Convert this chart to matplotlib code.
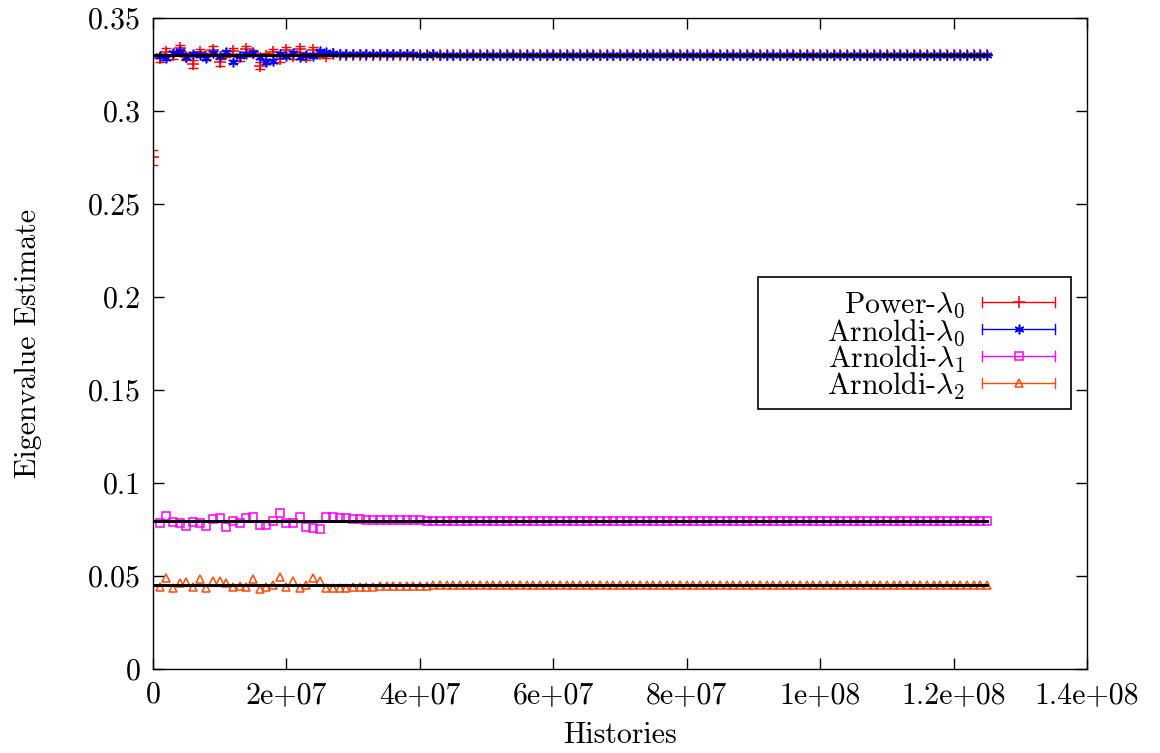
import matplotlib.pyplot as plt
from matplotlib.lines import Line2D
from matplotlib.patches import Rectangle
import numpy as np

plt.rcParams['font.family'] = 'cmr10'
plt.rcParams['mathtext.fontset'] = 'cm'
plt.rcParams['axes.unicode_minus'] = False

# histories (millions) at which each estimate was recorded
power_hist = np.arange(0, 126) * 1e6
arnoldi_hist = np.arange(1, 126) * 1e6

power_l0 = [
    0.2750, 0.3285, 0.3318, 0.3302, 0.3340, 0.3292, 0.3252, 0.3315, 0.3296, 0.3330,
    0.3262, 0.3308, 0.3322, 0.3288, 0.3335, 0.3310, 0.3243, 0.3295, 0.3318, 0.3282,
    0.3326, 0.3298, 0.3334, 0.3290, 0.3328, 0.3306, 0.3296, 0.3304, 0.3299, 0.3303,
    0.3301, 0.3300, 0.3303, 0.3301, 0.3299, 0.3302, 0.3301, 0.3300, 0.3302, 0.3301,
    0.3300, 0.3302, 0.3301, 0.3301, 0.3300, 0.3302, 0.3301, 0.3300, 0.3301, 0.3302,
    0.3301, 0.3300, 0.3301, 0.3302, 0.3301, 0.3301, 0.3300, 0.3301, 0.3302, 0.3301,
    0.3301, 0.3302, 0.3301, 0.3300, 0.3301, 0.3301, 0.3302, 0.3301, 0.3301, 0.3300,
    0.3301, 0.3302, 0.3301, 0.3301, 0.3301, 0.3300, 0.3301, 0.3302, 0.3301, 0.3301,
    0.3301, 0.3301, 0.3302, 0.3301, 0.3300, 0.3301, 0.3301, 0.3302, 0.3301, 0.3301,
    0.3301, 0.3300, 0.3301, 0.3301, 0.3302, 0.3301, 0.3301, 0.3301, 0.3300, 0.3301,
    0.3301, 0.3302, 0.3301, 0.3301, 0.3301, 0.3301, 0.3300, 0.3301, 0.3301, 0.3302,
    0.3301, 0.3301, 0.3301, 0.3301, 0.3300, 0.3301, 0.3301, 0.3301, 0.3302, 0.3301,
    0.3301, 0.3301, 0.3301, 0.3300, 0.3301, 0.3301,
]
power_l0_err = [
    0.0040, 0.0020, 0.0018, 0.0020, 0.0016, 0.0018, 0.0020, 0.0016, 0.0018, 0.0017,
    0.0018, 0.0016, 0.0017, 0.0018, 0.0016, 0.0017, 0.0018, 0.0016, 0.0017, 0.0016,
    0.0017, 0.0016, 0.0016, 0.0017, 0.0016, 0.0015, 0.0012, 0.0008, 0.0006, 0.0005,
    0.0005, 0.0004, 0.0004, 0.0004, 0.0004, 0.0004, 0.0003, 0.0003, 0.0003, 0.0003,
    0.0003, 0.0003, 0.0003, 0.0003, 0.0003, 0.0003, 0.0003, 0.0003, 0.0003, 0.0003,
    0.0003, 0.0003, 0.0003, 0.0003, 0.0003, 0.0003, 0.0003, 0.0003, 0.0003, 0.0003,
    0.0003, 0.0003, 0.0003, 0.0003, 0.0002, 0.0002, 0.0002, 0.0002, 0.0002, 0.0002,
    0.0002, 0.0002, 0.0002, 0.0002, 0.0002, 0.0002, 0.0002, 0.0002, 0.0002, 0.0002,
    0.0002, 0.0002, 0.0002, 0.0002, 0.0002, 0.0002, 0.0002, 0.0002, 0.0002, 0.0002,
    0.0002, 0.0002, 0.0002, 0.0002, 0.0002, 0.0002, 0.0002, 0.0002, 0.0002, 0.0002,
    0.0002, 0.0002, 0.0002, 0.0002, 0.0002, 0.0002, 0.0002, 0.0002, 0.0002, 0.0002,
    0.0002, 0.0002, 0.0002, 0.0002, 0.0002, 0.0002, 0.0002, 0.0002, 0.0002, 0.0002,
    0.0002, 0.0002, 0.0002, 0.0002, 0.0002, 0.0002,
]

arnoldi_l0 = [
    0.3295, 0.3285, 0.3312, 0.3320, 0.3290, 0.3308, 0.3300, 0.3283, 0.3310, 0.3296,
    0.3315, 0.3266, 0.3298, 0.3305, 0.3312, 0.3288, 0.3263, 0.3270, 0.3306, 0.3294,
    0.3310, 0.3290, 0.3302, 0.3293, 0.3320, 0.3316, 0.3312, 0.3309, 0.3308, 0.3307,
    0.3306, 0.3306, 0.3305, 0.3305, 0.3305, 0.3304, 0.3304, 0.3304, 0.3304, 0.3303,
    0.3303, 0.3304, 0.3303, 0.3303, 0.3303, 0.3302, 0.3303, 0.3303, 0.3303, 0.3302,
    0.3303, 0.3303, 0.3302, 0.3303, 0.3303, 0.3302, 0.3303, 0.3302, 0.3303, 0.3302,
    0.3302, 0.3303, 0.3302, 0.3302, 0.3303, 0.3302, 0.3302, 0.3302, 0.3303, 0.3302,
    0.3302, 0.3302, 0.3302, 0.3303, 0.3302, 0.3302, 0.3302, 0.3302, 0.3302, 0.3302,
    0.3302, 0.3303, 0.3302, 0.3302, 0.3302, 0.3302, 0.3302, 0.3302, 0.3302, 0.3302,
    0.3302, 0.3302, 0.3302, 0.3302, 0.3302, 0.3302, 0.3302, 0.3302, 0.3302, 0.3302,
    0.3302, 0.3302, 0.3302, 0.3302, 0.3302, 0.3302, 0.3302, 0.3302, 0.3302, 0.3302,
    0.3302, 0.3302, 0.3302, 0.3302, 0.3302, 0.3302, 0.3302, 0.3302, 0.3302, 0.3302,
    0.3302, 0.3302, 0.3302, 0.3302, 0.3302,
]
arnoldi_l0_err = [
    0.0010, 0.0010, 0.0010, 0.0010, 0.0010, 0.0010, 0.0010, 0.0010, 0.0010, 0.0010,
    0.0010, 0.0010, 0.0010, 0.0010, 0.0010, 0.0010, 0.0010, 0.0010, 0.0010, 0.0010,
    0.0010, 0.0010, 0.0010, 0.0010, 0.0009, 0.0007, 0.0005, 0.0004, 0.0003, 0.0003,
    0.0003, 0.0003, 0.0003, 0.0002, 0.0002, 0.0002, 0.0002, 0.0002, 0.0002, 0.0002,
    0.0002, 0.0002, 0.0002, 0.0002, 0.0002, 0.0002, 0.0002, 0.0002, 0.0002, 0.0002,
    0.0002, 0.0002, 0.0002, 0.0002, 0.0002, 0.0002, 0.0002, 0.0002, 0.0002, 0.0002,
    0.0002, 0.0002, 0.0002, 0.0002, 0.0002, 0.0002, 0.0002, 0.0002, 0.0002, 0.0002,
    0.0002, 0.0002, 0.0002, 0.0002, 0.0002, 0.0002, 0.0002, 0.0002, 0.0002, 0.0002,
    0.0002, 0.0002, 0.0002, 0.0002, 0.0002, 0.0002, 0.0002, 0.0002, 0.0002, 0.0002,
    0.0002, 0.0002, 0.0002, 0.0002, 0.0002, 0.0002, 0.0002, 0.0002, 0.0002, 0.0002,
    0.0002, 0.0002, 0.0002, 0.0002, 0.0002, 0.0002, 0.0002, 0.0002, 0.0002, 0.0002,
    0.0002, 0.0002, 0.0002, 0.0002, 0.0002, 0.0002, 0.0002, 0.0002, 0.0002, 0.0002,
    0.0002, 0.0002, 0.0002, 0.0002, 0.0002,
]

arnoldi_l1 = [
    0.0783, 0.0822, 0.0791, 0.0783, 0.0768, 0.0791, 0.0786, 0.0768, 0.0804, 0.0810,
    0.0761, 0.0797, 0.0783, 0.0813, 0.0815, 0.0773, 0.0773, 0.0797, 0.0840, 0.0786,
    0.0783, 0.0815, 0.0764, 0.0756, 0.0750, 0.0815, 0.0815, 0.0814, 0.0810, 0.0806,
    0.0804, 0.0803, 0.0802, 0.0801, 0.0801, 0.0800, 0.0800, 0.0799, 0.0799, 0.0799,
    0.0798, 0.0798, 0.0798, 0.0798, 0.0798, 0.0797, 0.0797, 0.0797, 0.0797, 0.0797,
    0.0797, 0.0797, 0.0797, 0.0796, 0.0797, 0.0796, 0.0796, 0.0797, 0.0796, 0.0796,
    0.0796, 0.0796, 0.0796, 0.0796, 0.0796, 0.0796, 0.0796, 0.0796, 0.0796, 0.0796,
    0.0796, 0.0796, 0.0796, 0.0796, 0.0796, 0.0796, 0.0796, 0.0796, 0.0796, 0.0796,
    0.0796, 0.0796, 0.0796, 0.0796, 0.0796, 0.0796, 0.0796, 0.0796, 0.0796, 0.0796,
    0.0796, 0.0796, 0.0796, 0.0796, 0.0796, 0.0796, 0.0796, 0.0796, 0.0796, 0.0796,
    0.0796, 0.0796, 0.0796, 0.0796, 0.0796, 0.0796, 0.0796, 0.0796, 0.0796, 0.0796,
    0.0796, 0.0796, 0.0796, 0.0796, 0.0796, 0.0796, 0.0796, 0.0796, 0.0796, 0.0796,
    0.0796, 0.0796, 0.0796, 0.0796, 0.0796,
]

arnoldi_l2 = [
    0.0440, 0.0488, 0.0434, 0.0461, 0.0467, 0.0443, 0.0483, 0.0434, 0.0475, 0.0475,
    0.0461, 0.0440, 0.0447, 0.0440, 0.0483, 0.0429, 0.0440, 0.0452, 0.0493, 0.0443,
    0.0475, 0.0434, 0.0452, 0.0488, 0.0475, 0.0434, 0.0434, 0.0437, 0.0437, 0.0440,
    0.0441, 0.0442, 0.0443, 0.0444, 0.0445, 0.0446, 0.0446, 0.0447, 0.0447, 0.0448,
    0.0448, 0.0449, 0.0449, 0.0450, 0.0450, 0.0450, 0.0451, 0.0451, 0.0451, 0.0451,
    0.0452, 0.0452, 0.0452, 0.0452, 0.0452, 0.0452, 0.0452, 0.0452, 0.0453, 0.0453,
    0.0453, 0.0453, 0.0453, 0.0453, 0.0453, 0.0453, 0.0453, 0.0453, 0.0453, 0.0453,
    0.0453, 0.0453, 0.0453, 0.0453, 0.0453, 0.0453, 0.0453, 0.0453, 0.0453, 0.0453,
    0.0453, 0.0453, 0.0453, 0.0453, 0.0453, 0.0453, 0.0453, 0.0453, 0.0453, 0.0453,
    0.0453, 0.0453, 0.0453, 0.0453, 0.0453, 0.0453, 0.0453, 0.0453, 0.0453, 0.0453,
    0.0453, 0.0453, 0.0453, 0.0453, 0.0453, 0.0453, 0.0453, 0.0453, 0.0453, 0.0453,
    0.0453, 0.0453, 0.0453, 0.0453, 0.0453, 0.0453, 0.0453, 0.0453, 0.0453, 0.0453,
    0.0453, 0.0453, 0.0453, 0.0453, 0.0453,
]

# reference eigenvalues
ref_values = [0.3301, 0.0796, 0.0452]
ref_span = [0, 1.25e8]

labels = [r'Power-$\lambda_0$', r'Arnoldi-$\lambda_0$',
          r'Arnoldi-$\lambda_1$', r'Arnoldi-$\lambda_2$']
colors = ['#ff0000', '#0000ff', '#ff00ff', '#ff4a0a']
markers = ['+', (6, 2, 0), 's', '^']
msizes = [9, 7, 6, 6]

x_ticks = [0, 2e7, 4e7, 6e7, 8e7, 1e8, 1.2e8, 1.4e8]
x_tick_labels = ['0', '2e+07', '4e+07', '6e+07', '8e+07', '1e+08', '1.2e+08', '1.4e+08']
y_ticks = [0, 0.05, 0.1, 0.15, 0.2, 0.25, 0.3, 0.35]
y_tick_labels = ['0', '0.05', '0.1', '0.15', '0.2', '0.25', '0.3', '0.35']

fs = 21.5

fig = plt.figure(figsize=(11.6, 7.53), dpi=100)
ax = fig.add_axes([0.1319, 0.1116, 0.8052, 0.8645])

series = [
    (power_hist, power_l0, power_l0_err),
    (arnoldi_hist, arnoldi_l0, arnoldi_l0_err),
    (arnoldi_hist, arnoldi_l1, None),
    (arnoldi_hist, arnoldi_l2, None),
]
for (x, y, err), c, m, ms in zip(series, colors, markers, msizes):
    ax.errorbar(x, y, yerr=err, fmt='none', ecolor=c, elinewidth=1.0,
                capsize=3.5, capthick=1.0, zorder=2)
    ax.plot(x, y, linestyle='none', marker=m, markersize=ms, color=c,
            markerfacecolor='none', markeredgewidth=1.1, zorder=2)

for v in ref_values:
    ax.plot(ref_span, [v, v], color='black', linewidth=2.2, zorder=3)

ax.set_xlim(0, 1.4e8)
ax.set_ylim(0, 0.35)
ax.set_xticks(x_ticks)
ax.set_xticklabels(x_tick_labels)
ax.set_yticks(y_ticks)
ax.set_yticklabels(y_tick_labels)
ax.tick_params(direction='in', length=8, width=1.0, top=True, right=True,
               labelsize=fs, pad=9)
for s in ax.spines.values():
    s.set_linewidth(1.0)
ax.set_xlabel('Histories', fontsize=fs, labelpad=9)
ax.set_ylabel('Eigenvalue Estimate', fontsize=fs, labelpad=33)

# legend drawn by hand: text right-aligned, errorbar sample on the right
ax.add_patch(Rectangle((0.648, 0.3994), 0.335, 0.2028, transform=ax.transAxes,
                       facecolor='white', edgecolor='black', linewidth=1.2,
                       zorder=5, clip_on=False))
row_y = [0.5637, 0.5222, 0.4808, 0.4393]
x0, x1, xm = 0.8876, 0.9657, 0.927
cap = 0.008
for lab, c, m, ms, yy in zip(labels, colors, markers, msizes, row_y):
    ax.text(0.869, yy, lab, transform=ax.transAxes, ha='right',
            va='center_baseline', fontsize=fs, zorder=6)
    ax.add_line(Line2D([x0, x1], [yy, yy], color=c, linewidth=1.0,
                       transform=ax.transAxes, zorder=6))
    for xc in (x0, x1):
        ax.add_line(Line2D([xc, xc], [yy - cap, yy + cap], color=c,
                           linewidth=1.0, transform=ax.transAxes, zorder=6))
    ax.add_line(Line2D([xm], [yy], marker=m, markersize=ms, color=c,
                       markerfacecolor='none', markeredgewidth=1.1,
                       linestyle='none', transform=ax.transAxes, zorder=6))

fig.savefig('out.png', dpi=100)
